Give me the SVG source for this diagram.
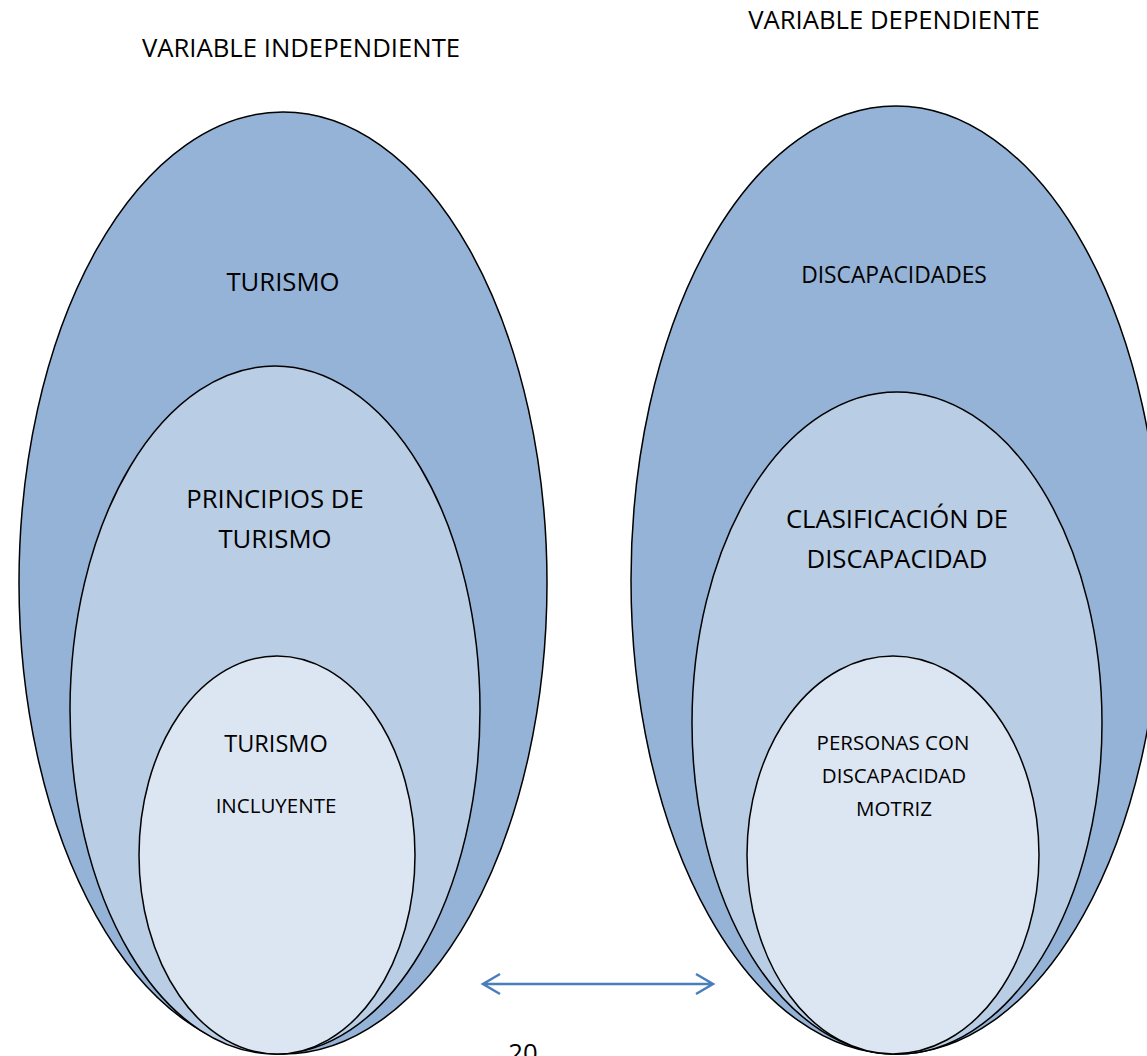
<svg xmlns="http://www.w3.org/2000/svg" width="1147" height="1056" viewBox="0 0 1147 1056">
<style>
text{font-family:"Open Sans","Liberation Sans",sans-serif;fill:#000;text-anchor:middle}
.e{stroke:#000;stroke-width:1.5}
.o{fill:#95B3D7}.m{fill:#B9CDE5}.i{fill:#DCE6F2}
.tL{font-size:25.7px}.t23{font-size:23.5px}.t22{font-size:22.8px}.t20{font-size:20.5px}
.c{stroke:#4A7EBB;stroke-width:2.5;fill:none}
</style>
<rect width="1147" height="1056" fill="#fff"/>
<text class="tL" x="301" y="57">VARIABLE INDEPENDIENTE</text>
<text class="tL" x="894" y="29">VARIABLE DEPENDIENTE</text>
<g id="turismo">
<ellipse class="e o" cx="283" cy="583" rx="264" ry="471"/>
<text class="tL" x="283" y="291">TURISMO</text>
</g>
<g id="principios">
<ellipse class="e m" cx="275" cy="710" rx="205" ry="344"/>
<text class="tL" x="275" y="508">PRINCIPIOS DE</text>
<text class="tL" x="275" y="548">TURISMO</text>
</g>
<g id="incluyente">
<ellipse class="e i" cx="277" cy="855" rx="138" ry="199"/>
<text class="t23" x="276" y="752">TURISMO</text>
<text class="t20" x="276" y="813">INCLUYENTE</text>
</g>
<g id="discapacidades">
<ellipse class="e o" cx="896" cy="580" rx="265" ry="474"/>
<text class="t22" x="894" y="283">DISCAPACIDADES</text>
</g>
<g id="clasificacion">
<ellipse class="e m" cx="897" cy="723" rx="205" ry="331"/>
<text class="tL" x="897" y="528">CLASIFICACIÓN DE</text>
<text class="tL" x="897" y="568">DISCAPACIDAD</text>
</g>
<g id="motriz">
<ellipse class="e i" cx="893" cy="855" rx="146" ry="199"/>
<text class="t20" x="893" y="750">PERSONAS CON</text>
<text class="t20" x="894" y="783">DISCAPACIDAD</text>
<text class="t20" x="894" y="816">MOTRIZ</text>
</g>
<g id="connectors">
<path class="c" d="M483 984 H713 M500 974 L483 984 L500 994 M696 974 L713 984 L696 994"/>
</g>
<text class="tL" x="523" y="1062">20</text>
</svg>
